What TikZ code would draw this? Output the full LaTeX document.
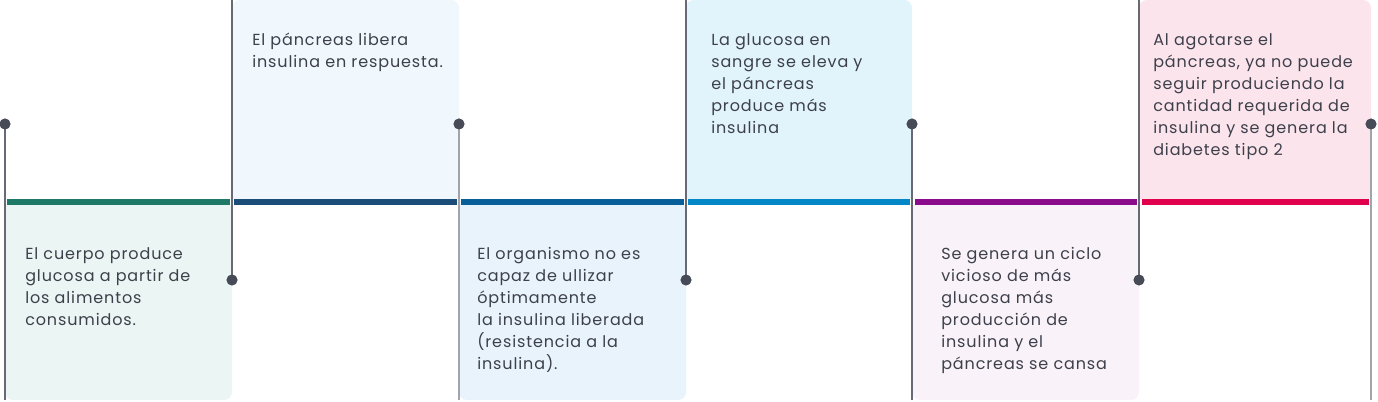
\documentclass[tikz,border=0pt]{standalone}
\usepackage{fontspec}
\setmainfont{Poppins}[LetterSpace=5.5]

\definecolor{ink}{HTML}{3D404B}
\definecolor{dotgray}{HTML}{474A57}
\definecolor{stemdark}{HTML}{676A74}
\definecolor{stemlight}{HTML}{A2A4AC}
\definecolor{barA}{HTML}{1E7A66}
\definecolor{barB}{HTML}{1A4E79}
\definecolor{barC}{HTML}{075E98}
\definecolor{barD}{HTML}{0387C7}
\definecolor{barE}{HTML}{8A0B8B}
\definecolor{barF}{HTML}{E0004E}
\definecolor{boxA}{HTML}{EBF5F3}
\definecolor{boxB}{HTML}{F0F7FD}
\definecolor{boxC}{HTML}{E9F3FB}
\definecolor{boxD}{HTML}{E1F4FC}
\definecolor{boxE}{HTML}{F9F2F9}
\definecolor{boxF}{HTML}{FBE4EB}

\begin{document}
\begin{tikzpicture}[x = 0.75pt, y = -0.75pt,
    txt/.style = {anchor=north west, inner sep=0pt, align=left, text=ink, font=\fontsize{12}{16.5}\selectfont},
    stem/.style = {line width=1.5pt},
    dot/.style = {circle, fill=dotgray, inner sep=0pt, minimum size=8pt}]
    \useasboundingbox (0,0) rectangle (1378,402);
    % boxes below the line
    \fill[boxA, rounded corners=6pt] (5,205) rectangle (232,400);
    \fill[boxA] (5,205) rectangle (232,230);
    \fill[boxC, rounded corners=6pt] (459,205) rectangle (686,400);
    \fill[boxC] (459,205) rectangle (686,230);
    \fill[boxE, rounded corners=6pt] (912,205) rectangle (1139,400);
    \fill[boxE] (912,205) rectangle (1139,230);
    % boxes above the line
    \fill[boxB, rounded corners=6pt] (232,0) rectangle (459,199);
    \fill[boxB] (232,170) rectangle (459,199);
    \fill[boxD, rounded corners=6pt] (686,0) rectangle (912,199);
    \fill[boxD] (686,170) rectangle (912,199);
    \fill[boxF, rounded corners=6pt] (1139,0) rectangle (1371,199);
    \fill[boxF] (1139,170) rectangle (1371,199);
    % timeline
    \fill[barA] (7,199) rectangle (230,205);
    \fill[barB] (234,199) rectangle (457,205);
    \fill[barC] (461,199) rectangle (684,205);
    \fill[barD] (688,199) rectangle (910,205);
    \fill[barE] (915,199) rectangle (1137,205);
    \fill[barF] (1142,199) rectangle (1369,205);
    % stems
    \node[dot] (d1) at (5,124) {};
    \node[dot] (d2) at (232,280) {};
    \node[dot] (d3) at (459,124) {};
    \node[dot] (d4) at (686,280) {};
    \node[dot] (d5) at (912,124) {};
    \node[dot] (d6) at (1139,280) {};
    \node[dot] (d7) at (1371,124) {};
    \coordinate (e1) at (5,400);
    \coordinate (e2) at (232,0);
    \coordinate (e3) at (459,400);
    \coordinate (e4) at (686,0);
    \coordinate (e5) at (912,400);
    \coordinate (e6) at (1139,0);
    \coordinate (e7) at (1371,400);
    \draw[stem, stemdark] (d1.center) -- (e1);
    \draw[stem, stemdark] (d2.center) -- (e2);
    \draw[stem, stemlight] (d3.center) -- (e3);
    \draw[stem, stemdark] (d4.center) -- (e4);
    \draw[stem, stemdark] (d5.center) -- (e5);
    \draw[stem, stemdark] (d6.center) -- (e6);
    \draw[stem, stemlight] (d7.center) -- (e7);
    \foreach \d in {d1,d2,d3,d4,d5,d6,d7}
        \fill[dotgray] (\d) circle (5.5);
    % texts
    \node[txt] (t1) at (25,247) {El cuerpo produce\\glucosa a partir de\\los alimentos\\consumidos.};
    \node[txt] (t2) at (252,33) {El páncreas libera\\insulina en respuesta.};
    \node[txt] (t3) at (477,247) {El organismo no es\\capaz de ullizar\\óptimamente\\la insulina liberada\\(resistencia a la\\insulina).};
    \node[txt] (t4) at (711,33) {La glucosa en\\sangre se eleva y\\el páncreas\\produce más\\insulina};
    \node[txt] (t5) at (941,247) {Se genera un ciclo\\vicioso de más\\glucosa más\\producción de\\insulina y el\\páncreas se cansa};
    \node[txt] (t6) at (1153,33) {Al agotarse el\\páncreas, ya no puede\\seguir produciendo la\\cantidad requerida de\\insulina y se genera la\\diabetes tipo 2};
\end{tikzpicture}
\end{document}
